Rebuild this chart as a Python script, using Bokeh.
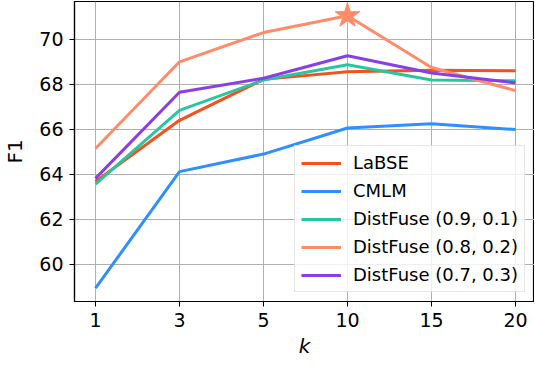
from bokeh.plotting import figure
from bokeh.models import Legend, LegendItem, FixedTicker, Range1d
from bokeh.embed import file_html
from bokeh.resources import INLINE

k_labels = ["1", "3", "5", "10", "15", "20"]
labse = [63.68, 66.40, 68.22, 68.56, 68.63, 68.60]
cmlm = [58.94, 64.12, 64.90, 66.06, 66.25, 65.99]
df_91 = [63.57, 66.84, 68.19, 68.87, 68.19, 68.16]
df_82 = [65.15, 69.00, 70.30, 71.05, 68.75, 67.72]
df_73 = [63.82, 67.65, 68.27, 69.27, 68.50, 68.06]
best_k_index = 3
best_value = 71.05

series = [
    ("LaBSE", labse, "#f4511e"),
    ("CMLM", cmlm, "#2f8fff"),
    ("DistFuse (0.9, 0.1)", df_91, "#28c6a0"),
    ("DistFuse (0.8, 0.2)", df_82, "#ff8c69"),
    ("DistFuse (0.7, 0.3)", df_73, "#8a3fe6"),
]

xs = list(range(len(k_labels)))

p = figure(frame_width=460, frame_height=300, min_border_left=67, min_border_right=0,
           min_border_top=1, min_border_bottom=58,
           x_range=Range1d(-0.25, -0.25 + 460 / 84), y_range=Range1d(58.35, 71.68),
           output_backend="svg", toolbar_location=None)

FONT = "DejaVu Sans"
items = []
for name, vals, color in series:
    r = p.line(xs, vals, line_color=color, line_width=3)
    items.append(LegendItem(label=name, renderers=[r]))

p.scatter([best_k_index], [best_value], marker="star", size=26,
          fill_color="#ff8c69", line_color="#ff8c69")

p.xaxis.ticker = FixedTicker(ticks=xs)
p.xaxis.major_label_overrides = {i: l for i, l in enumerate(k_labels)}
p.yaxis.ticker = FixedTicker(ticks=[60, 62, 64, 66, 68, 70])

for ax in (p.xaxis, p.yaxis):
    ax.major_label_text_font = FONT
    ax.major_label_text_font_size = "19px"
    ax.major_label_text_color = "black"
    ax.axis_label_text_font = FONT
    ax.axis_label_text_font_size = "20px"
    ax.axis_label_text_color = "black"
    ax.minor_tick_line_color = None
    ax.major_tick_in = 0
    ax.major_tick_out = 5
    ax.major_tick_line_color = "black"
    ax.axis_line_color = "black"
    ax.axis_line_width = 1.2

p.xaxis.axis_label = "k"
p.xaxis.axis_label_text_font_style = "italic"
p.yaxis.axis_label = "F1"
p.yaxis.axis_label_text_font_style = "normal"
p.xaxis.major_label_standoff = 6
p.yaxis.major_label_standoff = 6
p.yaxis.axis_label_standoff = 9
p.xaxis.axis_label_standoff = 4

p.xgrid.grid_line_color = "#b0b0b0"
p.ygrid.grid_line_color = "#b0b0b0"
p.xgrid.grid_line_width = 1
p.ygrid.grid_line_width = 1

p.outline_line_color = "black"
p.outline_line_width = 1.2
p.background_fill_color = "white"
p.border_fill_color = "white"

legend = Legend(items=items, location=(220, 9))
legend.label_text_font = FONT
legend.label_text_font_size = "18px"
legend.label_text_color = "black"
legend.glyph_width = 40
legend.glyph_height = 20
legend.label_height = 20
legend.spacing = 7
legend.padding = 6
legend.margin = 0
legend.label_standoff = 12
legend.border_line_color = "#d0d0d0"
legend.border_line_width = 1
legend.background_fill_alpha = 0.8
p.add_layout(legend, "center")

open("out.html", "w").write(file_html(p, INLINE))
